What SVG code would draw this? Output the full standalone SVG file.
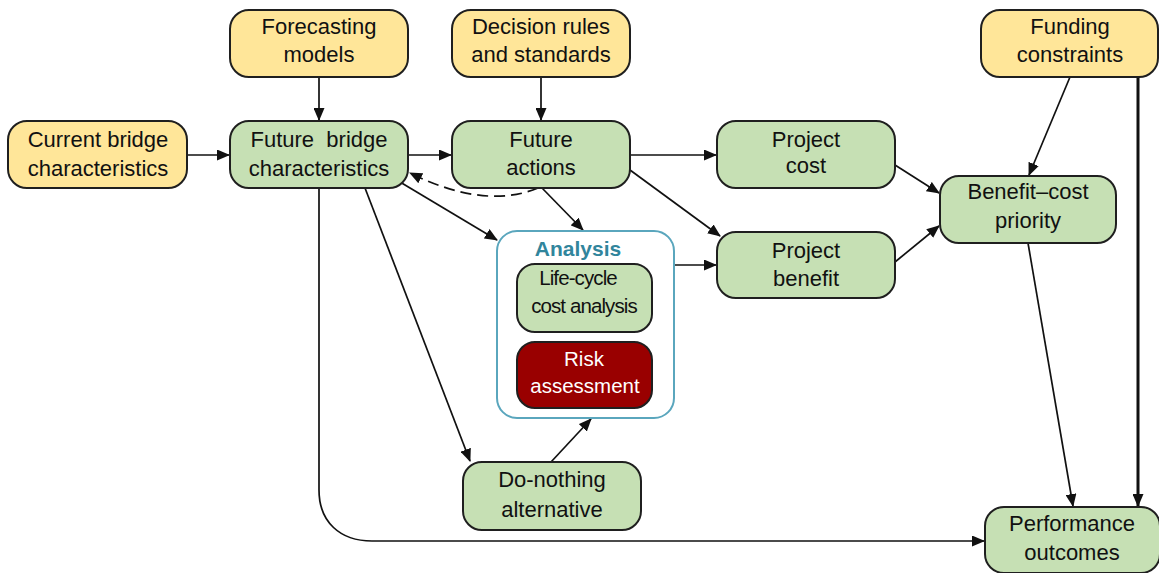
<svg xmlns="http://www.w3.org/2000/svg" width="1159" height="573" viewBox="0 0 1159 573">
  <style>
    .box { stroke: #1f1f1f; stroke-width: 2; }
    .yellow { fill: #ffe699; }
    .green { fill: #c6e0b4; }
    .red { fill: #990000; }
    .label { font-family: "Liberation Sans", Arial, sans-serif; font-size: 22px; fill: #111; text-anchor: middle; white-space: pre; }
    .small { font-size: 20.5px; letter-spacing: -0.9px; }
    .white { fill: #ffffff; font-size: 20.5px; }
    .group-title { font-family: "Liberation Sans", Arial, sans-serif; font-size: 21px; font-weight: bold; fill: #31859c; text-anchor: middle; }
    .link { fill: none; stroke: #111; stroke-width: 1.7; marker-end: url(#arrow); }
    .thick { stroke-width: 3; }
    .dashed { stroke-dasharray: 11 6; }
  </style>
  <defs>
    <marker id="arrow" markerUnits="userSpaceOnUse" markerWidth="13" markerHeight="11" refX="12" refY="5.5" orient="auto">
      <path d="M0,0 L13,5.5 L0,11 z" fill="#111"/>
    </marker>
  </defs>

  <rect width="1159" height="573" fill="#ffffff"/>

  <!-- connectors -->
  <g id="connectors">
    <path class="link" d="M319,77 V120"/>
    <path class="link" d="M541,77 V120"/>
    <path class="link" d="M187,155 H229"/>
    <path class="link" d="M408,155 H451"/>
    <path class="link" d="M630,155 H716"/>
    <path class="link" d="M630,170 L720,236"/>
    <path class="link" d="M542,188 L583,230"/>
    <path class="link" d="M400,182 L497,240"/>
    <path class="link dashed" d="M538,188 Q485,210 410,173"/>
    <path class="link" d="M365,188 L470,461"/>
    <path class="link" d="M319,188 V490 C319,522 340,541 372,541 H984"/>
    <path class="link" d="M551,462 L591,419"/>
    <path class="link" d="M674,265 H716"/>
    <path class="link" d="M895,165 L939,193"/>
    <path class="link" d="M895,262 L939,226"/>
    <path class="link" d="M1070,77 L1029,175"/>
    <path class="link thick" d="M1138,77 V506"/>
    <path class="link" d="M1028,243 L1073,506"/>
  </g>

  <!-- input nodes -->
  <g id="forecasting-models">
    <rect class="box yellow" x="230" y="10" width="178" height="67" rx="19"/>
    <text class="label" x="319" y="34">Forecasting</text>
    <text class="label" x="319" y="62">models</text>
  </g>
  <g id="decision-rules">
    <rect class="box yellow" x="452" y="10" width="178" height="67" rx="19"/>
    <text class="label" x="541" y="34">Decision rules</text>
    <text class="label" x="541" y="62">and standards</text>
  </g>
  <g id="funding-constraints">
    <rect class="box yellow" x="981" y="10" width="177" height="67" rx="19"/>
    <text class="label" x="1070" y="34">Funding</text>
    <text class="label" x="1070" y="62">constraints</text>
  </g>
  <g id="current-bridge">
    <rect class="box yellow" x="8" y="121" width="179" height="67" rx="19"/>
    <text class="label" x="98" y="147">Current bridge</text>
    <text class="label" x="98" y="176">characteristics</text>
  </g>

  <!-- process nodes -->
  <g id="future-bridge">
    <rect class="box green" x="230" y="121" width="178" height="67" rx="19"/>
    <text class="label" x="319" y="147">Future  bridge</text>
    <text class="label" x="319" y="176">characteristics</text>
  </g>
  <g id="future-actions">
    <rect class="box green" x="452" y="121" width="178" height="67" rx="19"/>
    <text class="label" x="541" y="147">Future</text>
    <text class="label" x="541" y="175">actions</text>
  </g>
  <g id="project-cost">
    <rect class="box green" x="717" y="121" width="178" height="67" rx="19"/>
    <text class="label" x="806" y="147">Project</text>
    <text class="label" x="806" y="173">cost</text>
  </g>
  <g id="project-benefit">
    <rect class="box green" x="717" y="232" width="178" height="66" rx="19"/>
    <text class="label" x="806" y="258">Project</text>
    <text class="label" x="806" y="286">benefit</text>
  </g>
  <g id="benefit-cost-priority">
    <rect class="box green" x="940" y="176" width="176" height="67" rx="19"/>
    <text class="label" x="1028" y="199">Benefit–cost</text>
    <text class="label" x="1028" y="228">priority</text>
  </g>

  <!-- analysis group -->
  <g id="analysis">
    <rect x="497" y="231" width="177" height="187" rx="20" fill="#ffffff" stroke="#5aa6bd" stroke-width="2"/>
    <text class="group-title" x="578" y="256">Analysis</text>
  </g>
  <g id="life-cycle-cost-analysis">
    <rect class="box green" x="517" y="264" width="135" height="68" rx="18"/>
    <text class="label small" x="578" y="285">Life-cycle</text>
    <text class="label small" x="584" y="313">cost analysis</text>
  </g>
  <g id="risk-assessment">
    <rect class="box red" x="517" y="342" width="135" height="66" rx="18"/>
    <text class="label white" x="584" y="366">Risk</text>
    <text class="label white" x="585" y="393">assessment</text>
  </g>

  <g id="do-nothing">
    <rect class="box green" x="463" y="462" width="178" height="68" rx="19"/>
    <text class="label" x="552" y="487">Do-nothing</text>
    <text class="label" x="552" y="517">alternative</text>
  </g>
  <g id="performance-outcomes">
    <rect class="box green" x="985" y="507" width="175" height="66" rx="19"/>
    <text class="label" x="1072" y="531">Performance</text>
    <text class="label" x="1072" y="560">outcomes</text>
  </g>
</svg>
